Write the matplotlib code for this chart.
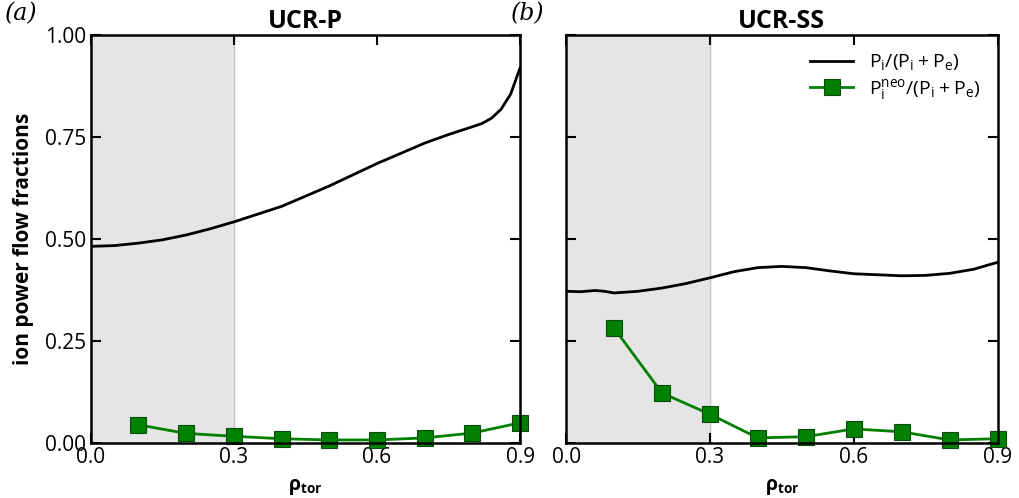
import matplotlib
matplotlib.use('Agg')
import matplotlib.pyplot as plt

plt.rcParams['font.family'] = ['Open Sans', 'DejaVu Sans']
plt.rcParams['mathtext.fontset'] = 'custom'
plt.rcParams['mathtext.rm'] = 'Open Sans'
plt.rcParams['mathtext.bf'] = 'Open Sans:bold'

# Data
rho_line_p = [0.0, 0.05, 0.1, 0.15, 0.2, 0.25, 0.3, 0.4, 0.5, 0.6, 0.7, 0.75, 0.8, 0.82, 0.84, 0.86, 0.88, 0.9]
frac_p = [0.482, 0.484, 0.49, 0.498, 0.51, 0.525, 0.542, 0.58, 0.63, 0.685, 0.735, 0.756, 0.775, 0.783, 0.796, 0.818, 0.855, 0.92]

rho_line_ss = [0.0, 0.03, 0.06, 0.08, 0.1, 0.15, 0.2, 0.25, 0.3, 0.35, 0.4, 0.45, 0.5, 0.55, 0.6, 0.7, 0.75, 0.8, 0.85, 0.9]
frac_ss = [0.372, 0.371, 0.374, 0.372, 0.368, 0.372, 0.38, 0.391, 0.405, 0.42, 0.43, 0.433, 0.43, 0.422, 0.415, 0.41, 0.411, 0.416, 0.426, 0.443]

rho_neo = [0.1, 0.2, 0.3, 0.4, 0.5, 0.6, 0.7, 0.8, 0.9]
neo_p = [0.045, 0.024, 0.017, 0.011, 0.008, 0.008, 0.013, 0.025, 0.05]
neo_ss = [0.282, 0.123, 0.071, 0.013, 0.016, 0.035, 0.028, 0.008, 0.011]

titles = ['UCR-P', 'UCR-SS']
panel_tags = ['(a)', '(b)']

fig = plt.figure(figsize=(10.2, 4.98), dpi=100)
ax1 = fig.add_axes([0.089, 0.11, 0.421, 0.82])
ax2 = fig.add_axes([0.555, 0.11, 0.423, 0.82])

data = [(rho_line_p, frac_p, neo_p), (rho_line_ss, frac_ss, neo_ss)]
for i, ax in enumerate([ax1, ax2]):
    xl, yl, yn = data[i]
    ax.axvspan(0.0, 0.3, color='#e5e5e5', zorder=0)
    ax.axvline(0.3, color='#c8c8c8', lw=1.0, zorder=0.5)
    ax.plot(xl, yl, color='black', lw=2, label=r'$\mathregular{P_i/(P_i + P_e)}$')
    ax.plot(rho_neo, yn, color='green', lw=2, marker='s', ms=11,
            markeredgecolor='#0a4a0a', markeredgewidth=0.8, clip_on=False,
            label=r'$\mathregular{P_i^{neo}/(P_i + P_e)}$')
    ax.set_xlim(0, 0.9)
    ax.set_ylim(0, 1.0)
    ax.set_xticks([0.0, 0.3, 0.6, 0.9])
    ax.set_yticks([0.0, 0.25, 0.5, 0.75, 1.0])
    ax.tick_params(direction='in', top=True, right=True, length=7, width=1.5,
                   labelsize=15)
    ax.tick_params(axis='x', pad=3)
    for s in ax.spines.values():
        s.set_linewidth(1.8)
    ax.set_title(titles[i], fontsize=18, fontweight='bold', pad=5)
    ax.set_xlabel(r'$\mathbf{\rho}_{\mathbf{tor}}$', fontsize=14, labelpad=6)
    ax.text(-0.2 if i == 0 else -0.128, 1.035, panel_tags[i], transform=ax.transAxes,
            fontsize=17, family='DejaVu Serif', style='italic')

ax1.set_yticklabels(['0.00', '0.25', '0.50', '0.75', '1.00'])
ax1.set_ylabel('ion power flow fractions', fontsize=15, fontweight='bold', labelpad=8)
ax2.set_yticklabels([])
ax2.legend(loc='upper right', frameon=False, fontsize=14, handlelength=2.2,
           borderaxespad=0.5, labelspacing=0.25)

plt.savefig('out.png', dpi=100)
